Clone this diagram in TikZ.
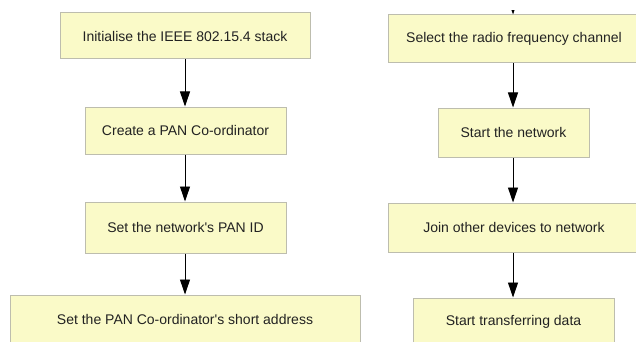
\documentclass[tikz,border=0pt]{standalone}
\usepackage{fontspec}
\setmainfont{Liberation Sans}
\usetikzlibrary{arrows.meta}
\definecolor{boxfill}{HTML}{FAFAC8}
\definecolor{boxline}{HTML}{BDBDAE}
\definecolor{txt}{HTML}{222222}
\tikzset{
  stepbox/.style={draw=boxline, line width=1pt, fill=boxfill, rectangle, inner sep=0pt,
    text=txt, font=\fontsize{14}{16}\selectfont},
  flow/.style={draw=black, line width=0.9pt, -{Triangle[length=15pt,width=10pt]}}
}
\begin{document}
\begin{tikzpicture}[x=1pt,y=-1pt]
\useasboundingbox (0,0) rectangle (636,342);
\clip (0,0) rectangle (636,342);
\fill[white] (0,0) rectangle (636,342);
% left column
\node[stepbox, minimum width=250pt, minimum height=46pt] (l1) at (185,36) {Initialise the IEEE 802.15.4 stack};
\node[stepbox, minimum width=201pt, minimum height=47pt] (l2) at (185.5,130.5) {Create a PAN Co-ordinator};
\node[stepbox, minimum width=201pt, minimum height=51pt] (l3) at (185.5,227.5) {Set the network\textquotesingle s PAN ID};
\node[stepbox, minimum width=350pt, minimum height=48pt] (l4) at (185,319) {Set the PAN Co-ordinator\textquotesingle s short address};
% right column
\node[stepbox, minimum width=252pt, minimum height=48pt] (r1) at (514,39) {Select the radio frequency channel};
\node[stepbox, minimum width=151pt, minimum height=49pt] (r2) at (513.5,132.5) {Start the network};
\node[stepbox, minimum width=252pt, minimum height=49pt] (r3) at (514,227.5) {Join other devices to network};
\node[stepbox, minimum width=201pt, minimum height=48pt] (r4) at (513.5,322) {Start transferring data};
\coordinate (top) at (513,-10);
% arrows
\draw[flow] (l1.south -| 185,0) -- (l2.north -| 185,0);
\draw[flow] (l2.south -| 185,0) -- (l3.north -| 185,0);
\draw[flow] (l3.south -| 185,0) -- (l4.north -| 185,0);
\begin{scope}
\clip (0,11) rectangle (636,342);
\draw[flow] (top) -- (r1.north -| top);
\end{scope}
\draw[flow] (r1.south -| top) -- (r2.north -| top);
\draw[flow] (r2.south -| top) -- (r3.north -| top);
\draw[flow] (r3.south -| top) -- (r4.north -| top);
\end{tikzpicture}
\end{document}
